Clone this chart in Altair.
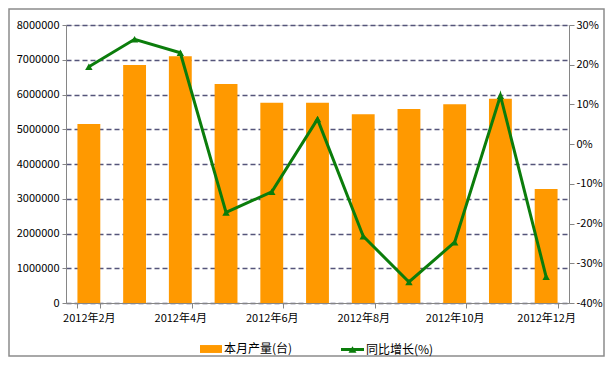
import altair as alt
import pandas as pd

months = ["2012年2月", "2012年3月", "2012年4月", "2012年5月", "2012年6月", "2012年7月",
          "2012年8月", "2012年9月", "2012年10月", "2012年11月", "2012年12月"]
output = [5150000, 6850000, 7100000, 6300000, 5760000, 5760000,
          5430000, 5580000, 5720000, 5880000, 3280000]
growth = [19.5, 26.4, 23.0, -17.2, -12.0, 6.3, -23.2, -34.7, -24.7, 12.2, -33.4]
left_ticks = [0, 1000000, 2000000, 3000000, 4000000, 5000000, 6000000, 7000000, 8000000]
right_ticks = [-40, -30, -20, -10, 0, 10, 20, 30]
bar_name = "本月产量(台)"
line_name = "同比增长(%)"

df = pd.DataFrame({"month": months, "output": output, "growth": growth,
                   "s1": bar_name, "s2": line_name})

FONT = "Noto Sans CJK SC"
GREEN = "#0b7d0b"
ORANGE = "#FF9900"
AXC = "#868686"

xenc = alt.X("month:N", sort=months,
             scale=alt.Scale(paddingInner=0.5, paddingOuter=0.25),
             axis=alt.Axis(title=None, values=months[::2], tickBand="extent",
                           labelAngle=0, labelFont=FONT, labelFontSize=11,
                           labelColor="#000", domainColor=AXC, tickColor=AXC,
                           tickSize=5, labelPadding=4, grid=False))

bars = alt.Chart(df).mark_bar(color=ORANGE).encode(
    x=xenc,
    y=alt.Y("output:Q", scale=alt.Scale(domain=[0, 8000000], nice=False),
            axis=alt.Axis(title=None, values=left_ticks, format="d",
                          labelFont=FONT, labelFontSize=11, labelColor="#000",
                          domainColor=AXC, tickColor=AXC, tickSize=4, labelPadding=3,
                          grid=True, gridDash=[5, 3], gridColor="#55557a",
                          gridWidth=1.5)),
    color=alt.Color("s1:N", scale=alt.Scale(domain=[bar_name], range=[ORANGE]),
                    legend=alt.Legend(title=None, orient="none", legendX=134, legendY=313,
                                      symbolType="M-1,-0.36H1V0.36H-1Z", symbolSize=484,
                                      symbolStrokeWidth=0, labelFont=FONT, labelFontSize=12,
                                      labelColor="#000", labelOffset=2, padding=0)),
)

yr = alt.Y("growth:Q", scale=alt.Scale(domain=[-40, 30], nice=False),
           axis=alt.Axis(title=None, orient="right", values=right_ticks,
                         labelExpr="datum.value + '%'", labelFont=FONT, labelFontSize=11,
                         labelColor="#000", domainColor=AXC, tickColor=AXC,
                         tickSize=5, labelPadding=2, grid=False))

line = alt.Chart(df).mark_line(color=GREEN, strokeWidth=3).encode(x=xenc, y=yr)
pts = alt.Chart(df).mark_point(shape="triangle-up", filled=True, size=55, opacity=1).encode(
    x=xenc, y=yr,
    color=alt.Color("s2:N", scale=alt.Scale(domain=[line_name], range=[GREEN]),
                    legend=alt.Legend(title=None, orient="none", legendX=275, legendY=313,
                                      symbolType="M-1,-0.13H1V0.13H-1Z M-0.35,0.28L0,-0.28L0.35,0.28Z",
                                      symbolSize=529, symbolStrokeWidth=0,
                                      labelFont=FONT, labelFontSize=12, labelColor="#000",
                                      labelOffset=2, padding=0)),
)

border = alt.Chart(pd.DataFrame({"a": [0]})).mark_rect(
    fillOpacity=0, stroke="#8c8c8c", strokeWidth=1.5).encode(
    x=alt.value(-57), x2=alt.value(503 + 35), y=alt.value(-16), y2=alt.value(278 + 53))

right = alt.layer(line, pts)
chart = alt.layer(bars, right, border).resolve_scale(
    y="independent", color="independent").properties(
    width=503, height=278,
    autosize=alt.AutoSizeParams(type="none"),
    padding={"left": 58, "top": 17, "right": 36, "bottom": 54},
).configure_view(stroke=None).configure(background="white")

chart.save("out.html", embed_options={"renderer": "svg", "actions": False})
